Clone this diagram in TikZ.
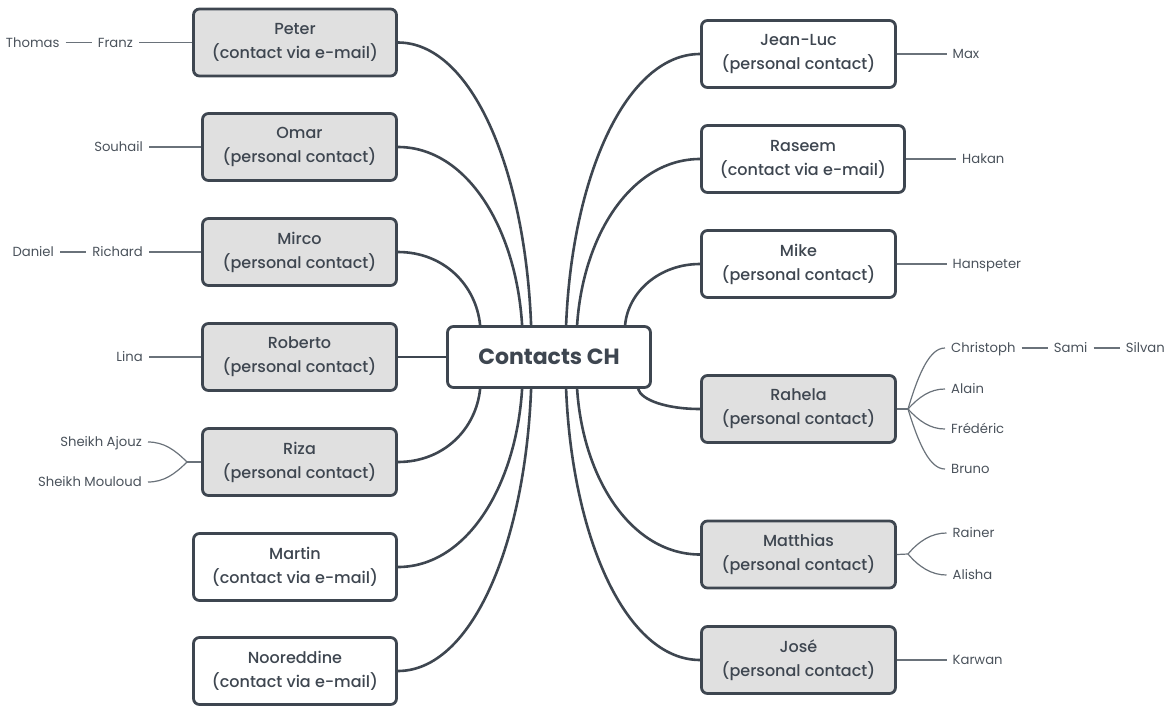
\documentclass[tikz,border=0pt]{standalone}
\usepackage{fontspec}
\setmainfont{Poppins}
\newfontfamily\topicfont{Poppins Medium}
\usetikzlibrary{calc,positioning}
\definecolor{ink}{HTML}{3E4650}
\definecolor{leafink}{HTML}{4A525B}
\definecolor{boxgray}{HTML}{E0E0E0}
\definecolor{twigc}{HTML}{6A727A}
\begin{document}
\begin{tikzpicture}[x=1pt,y=-1pt,
  topic/.style={draw=ink, line width=2.8pt, rounded corners=6pt, align=center,
    text=ink, inner sep=0pt, minimum height=67pt,
    execute at begin node={\rule{0pt}{15pt}},
    font=\topicfont\fontsize{16}{24}\selectfont},
  graybox/.style={topic, fill=boxgray},
  whitebox/.style={topic, fill=white},
  narrow/.style={minimum width=194pt},
  wide/.style={minimum width=203pt},
  root/.style={draw=ink, line width=2.8pt, rounded corners=6pt, fill=white,
    minimum width=203pt, minimum height=61pt, text=ink,
    font=\fontsize{22}{26}\selectfont\bfseries},
  branch/.style={draw=ink, line width=2.6pt},
  twig/.style={draw=twigc, line width=1.2pt},
  leaf/.style={inner xsep=6pt, inner ysep=0pt, text height=9.5pt, text depth=0pt,
    text=leafink, font=\fontsize{13.2}{16}\selectfont},
  leafL/.style={leaf, anchor=east},
  leafR/.style={leaf, anchor=west}
]
\useasboundingbox (0,0) rectangle (1173,707);

% central topic
\node[root] (root) at (549,357) {Contacts CH};

% left topics
\node[graybox, wide]    (peter)   at (295,42.5)  {Peter\\(contact via e-mail)};
\node[graybox, narrow]  (omar)    at (299.5,147) {Omar\\(personal contact)};
\node[graybox, narrow]  (mirco)   at (299.5,252) {Mirco\\(personal contact)};
\node[graybox, narrow]  (roberto) at (299.5,357) {Roberto\\(personal contact)};
\node[graybox, narrow]  (riza)    at (299.5,462) {Riza\\(personal contact)};
\node[whitebox, wide]   (martin)  at (295,567)   {Martin\\(contact via e-mail)};
\node[whitebox, wide]   (noor)    at (295,671)   {Nooreddine\\(contact via e-mail)};

% right topics
\node[whitebox, narrow] (jeanluc)  at (798.5,54)    {Jean-Luc\\(personal contact)};
\node[whitebox, wide]   (raseem)   at (803,159)     {Raseem\\(contact via e-mail)};
\node[whitebox, narrow] (mike)     at (798.5,264)   {Mike\\(personal contact)};
\node[graybox, narrow]  (rahela)   at (798.5,409)   {Rahela\\(personal contact)};
\node[graybox, narrow]  (matthias) at (798.5,554.5) {Matthias\\(personal contact)};
\node[graybox, narrow]  (jose)     at (798.5,660)   {José\\(personal contact)};

% branches to the central topic
\draw[branch] (peter.east) .. controls +(74,0) and +(-6,-155) .. ($(root.north west)+(85,0)$);
\draw[branch] (omar.east)  .. controls +(69,0) and +(-6,-97)  .. ($(root.north west)+(76,0)$);
\draw[branch] (mirco.east) .. controls +(46,0) and +(-4,-40)  .. ($(root.north west)+(34,0)$);
\draw[branch] (roberto.east) -- (root.west);
\draw[branch] (riza.east)   .. controls +(46,0) and +(-4,40)  .. ($(root.south west)+(34,0)$);
\draw[branch] (martin.east) .. controls +(69,0) and +(-6,97)  .. ($(root.south west)+(76,0)$);
\draw[branch] (noor.east)   .. controls +(74,0) and +(-6,155) .. ($(root.south west)+(85,0)$);

\draw[branch] (jeanluc.west)  .. controls +(-74,0) and +(6,-149) .. ($(root.north west)+(120,0)$);
\draw[branch] (raseem.west)   .. controls +(-68,0) and +(6,-91)  .. ($(root.north west)+(131,0)$);
\draw[branch] (mike.west)     .. controls +(-41,0) and +(3,-33)  .. ($(root.north west)+(179,0)$);
\draw[branch] (rahela.west)   .. controls +(-34,0) and +(3,11)   .. ($(root.south west)+(192,0)$);
\draw[branch] (matthias.west) .. controls +(-68,0) and +(6,91)   .. ($(root.south west)+(131,0)$);
\draw[branch] (jose.west)     .. controls +(-74,0) and +(6,149)  .. ($(root.south west)+(120,0)$);

% left subtopics
\node[leafL] (franz)   at (139,42.5) {Franz};
\node[leafL, left=26pt of franz] (thomas) {Thomas};
\node[leafL] (souhail) at (149,147) {Souhail};
\node[leafL] (richard) at (149,252) {Richard};
\node[leafL, left=26pt of richard] (daniel) {Daniel};
\node[leafL] (lina)    at (149,357) {Lina};
\node[leafL] (ajouz)   at (148,442) {Sheikh Ajouz};
\node[leafL] (mouloud) at (148,482) {Sheikh Mouloud};
\coordinate (rizaj) at (187,462);

\draw[twig] (thomas.east) -- (franz.west);
\draw[twig] (franz.east) -- (peter.west);
\draw[twig] (souhail.east) -- (omar.west);
\draw[twig] (daniel.east) -- (richard.west);
\draw[twig] (richard.east) -- (mirco.west);
\draw[twig] (lina.east) -- (roberto.west);
\draw[twig] (riza.west) -- (rizaj);
\draw[twig] (rizaj) .. controls +(-12,-12) and +(16,0) .. (ajouz.east);
\draw[twig] (rizaj) .. controls +(-12,12) and +(16,0) .. (mouloud.east);

% right subtopics
\node[leafR] (max)       at (946.5,54)  {Max};
\node[leafR] (hakan)     at (956,159)   {Hakan};
\node[leafR] (hanspeter) at (946.5,264) {Hanspeter};
\node[leafR] (christoph) at (945,348)   {Christoph};
\node[leafR, right=26pt of christoph] (sami) {Sami};
\node[leafR, right=26pt of sami] (silvan) {Silvan};
\node[leafR] (alain)     at (945,389)   {Alain};
\node[leafR] (frederic)  at (945,429)   {Frédéric};
\node[leafR] (bruno)     at (945,469)   {Bruno};
\node[leafR] (rainer)    at (946.5,533) {Rainer};
\node[leafR] (alisha)    at (946.5,575) {Alisha};
\node[leafR] (karwan)    at (946.5,660) {Karwan};
\coordinate (rahj) at (908,409);
\coordinate (matj) at (908,554);

\draw[twig] (jeanluc.east) -- (max.west);
\draw[twig] (raseem.east) -- (hakan.west);
\draw[twig] (mike.east) -- (hanspeter.west);
\draw[twig] (jose.east) -- (karwan.west);
\draw[twig] (rahela.east) -- (rahj);
\draw[twig] (rahj) .. controls +(11,-37) and +(-15,0) .. (christoph.west);
\draw[twig] (rahj) .. controls +(11,-12) and +(-15,0) .. (alain.west);
\draw[twig] (rahj) .. controls +(11,12)  and +(-15,0) .. (frederic.west);
\draw[twig] (rahj) .. controls +(11,36)  and +(-15,0) .. (bruno.west);
\draw[twig] (christoph.east) -- (sami.west);
\draw[twig] (sami.east) -- (silvan.west);
\draw[twig] (matthias.east) -- (matj);
\draw[twig] (matj) .. controls +(11,-13) and +(-15,0) .. (rainer.west);
\draw[twig] (matj) .. controls +(11,13)  and +(-15,0) .. (alisha.west);
\end{tikzpicture}
\end{document}
